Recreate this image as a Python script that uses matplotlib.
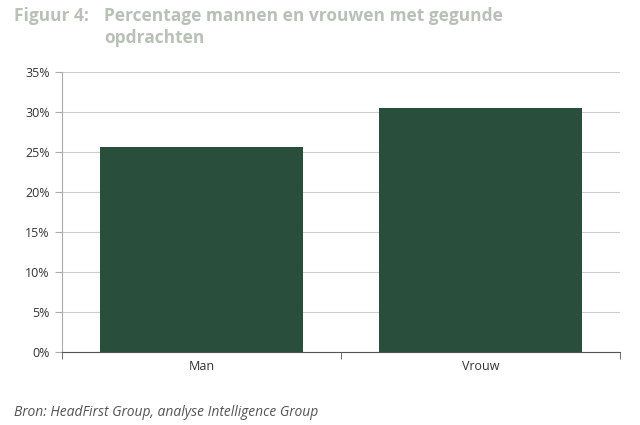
import matplotlib
matplotlib.use("Agg")
import matplotlib.pyplot as plt
from matplotlib.ticker import FixedLocator

categories = ["Man", "Vrouw"]
values = [25.6, 30.5]
yticks = [0, 5, 10, 15, 20, 25, 30, 35]
ytick_labels = [f"{v}%" for v in yticks]

plt.rcParams["font.family"] = "Open Sans"
fig = plt.figure(figsize=(6.4, 4.25), dpi=100)
ax = fig.add_axes([62/640, 1-352/425, 558/640, 280/425])

x = list(range(len(categories)))
ax.bar(x, values, width=0.73, color="#2a4e3c", zorder=3)
ax.set_xlim(-0.5, len(categories)-0.5)
ax.set_ylim(0, 35)
ax.set_yticks(yticks)
ax.set_yticklabels(ytick_labels, fontsize=9, color="#333333")
ax.set_xticks(x)
ax.set_xticklabels(categories, fontsize=9, color="#333333")
ax.xaxis.set_major_locator(FixedLocator(x))
ax.xaxis.set_minor_locator(FixedLocator([-0.5, 0.5, 1.5]))
ax.tick_params(axis="x", which="major", length=0, pad=6)
ax.tick_params(axis="x", which="minor", length=5, color="#555555")
ax.tick_params(axis="y", length=5, color="#aaaaaa", pad=4)
ax.grid(axis="y", color="#cccccc", linewidth=0.8, zorder=0)
for s in ["top", "right"]:
    ax.spines[s].set_visible(False)
ax.spines["left"].set_color("#aaaaaa")
ax.spines["bottom"].set_color("#555555")

fig.text(14/640, 1-16/425, "Figuur 4:", fontsize=12.5, fontweight="bold", color="#b8c0b8", va="center")
fig.text(104/640, 1-16/425, "Percentage mannen en vrouwen met gegunde", fontsize=12.5, fontweight="bold", color="#b8c0b8", va="center")
fig.text(104/640, 1-38/425, "opdrachten", fontsize=12.5, fontweight="bold", color="#b8c0b8", va="center")
fig.text(14/640, 1-413/425, "Bron: HeadFirst Group, analyse Intelligence Group", fontsize=10, style="italic", color="#555555", va="center")

fig.savefig("out.png", dpi=100)
